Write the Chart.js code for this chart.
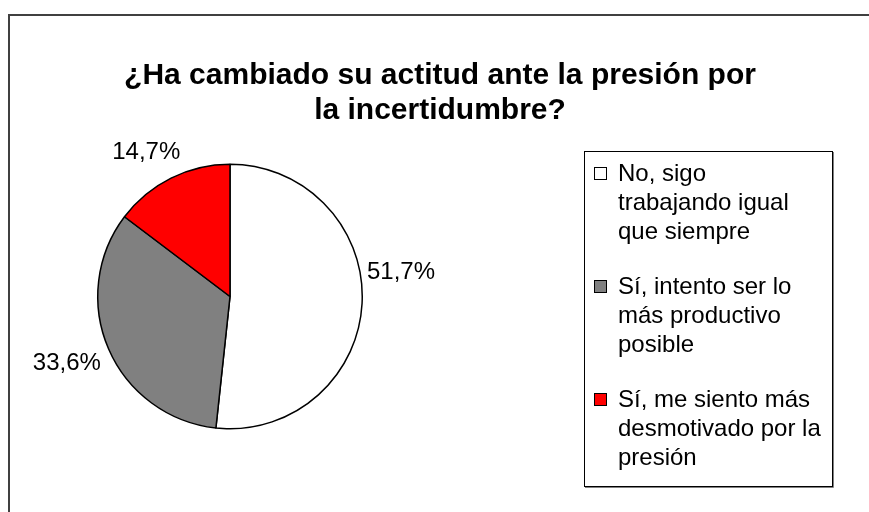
<!DOCTYPE html>
<html>
<head>
<meta charset="utf-8">
<script src="https://cdn.jsdelivr.net/npm/chart.js@4/dist/chart.umd.min.js"></script>
<style>
  body { margin: 0; background: #fff; }
  #wrap { width: 869px; height: 512px; }
</style>
</head>
<body>
<div id="wrap"><canvas id="pieChart" width="869" height="512"></canvas></div>
<script>
// data
const titleLines = ['¿Ha cambiado su actitud ante la presión por', 'la incertidumbre?'];
const answers = ['No, sigo trabajando igual que siempre', 'Sí, intento ser lo más productivo posible', 'Sí, me siento más desmotivado por la presión'];
const answerLines = [
  ['No, sigo', 'trabajando igual', 'que siempre'],
  ['Sí, intento ser lo', 'más productivo', 'posible'],
  ['Sí, me siento más', 'desmotivado por la', 'presión']
];
const percents = [51.7, 33.6, 14.7];
const sliceColors = ['#FFFFFF', '#808080', '#FF0000'];

const FONT = '"Liberation Sans", Arial, sans-serif';

// frame + title drawn by hand (excel-like look)
const framePlugin = {
  id: 'frame',
  beforeDraw(chart) {
    const ctx = chart.ctx;
    ctx.save();
    ctx.fillStyle = '#fff';
    ctx.fillRect(0, 0, chart.width, chart.height);
    ctx.strokeStyle = '#404040';
    ctx.lineWidth = 2;
    ctx.beginPath();
    ctx.moveTo(9, chart.height);
    ctx.lineTo(9, 15);
    ctx.lineTo(chart.width, 15);
    ctx.stroke();

    ctx.fillStyle = '#000';
    ctx.font = 'bold 30px ' + FONT;
    ctx.textAlign = 'center';
    ctx.textBaseline = 'middle';
    ctx.fillText(titleLines[0], 440, 76);
    ctx.fillText(titleLines[1], 440, 111);
    ctx.restore();
  }
};

// percentage labels outside the slices
const labelNudge = [[-1, -32], [-5, 8], [-7, -11]];
const pctPlugin = {
  id: 'pctLabels',
  afterDatasetsDraw(chart) {
    const ctx = chart.ctx;
    const arcs = chart.getDatasetMeta(0).data;
    ctx.save();
    ctx.font = '24px ' + FONT;
    ctx.fillStyle = '#000';
    ctx.textAlign = 'center';
    ctx.textBaseline = 'middle';
    arcs.forEach((arc, i) => {
      const mid = (arc.startAngle + arc.endAngle) / 2;
      const r = arc.outerRadius + 6;
      const txt = percents[i].toFixed(1).replace('.', ',') + '%';
      const w = ctx.measureText(txt).width;
      const h = 20;
      const px = arc.x + Math.cos(mid) * r;
      const py = arc.y + Math.sin(mid) * r;
      const tx = px + Math.cos(mid) * w / 2 + labelNudge[i][0];
      const ty = py + Math.sin(mid) * h / 2 + labelNudge[i][1];
      ctx.fillText(txt, tx, ty);
    });
    ctx.restore();
  }
};

// legend box with wrapped text
const legendPlugin = {
  id: 'boxLegend',
  afterDraw(chart) {
    const ctx = chart.ctx;
    const x0 = 584, y0 = 151, x1 = 832, y1 = 486;
    ctx.save();
    // shadow
    ctx.strokeStyle = '#808080';
    ctx.lineWidth = 1;
    ctx.beginPath();
    ctx.moveTo(x0 + 1, y1 + 1.5);
    ctx.lineTo(x1 + 1.5, y1 + 1.5);
    ctx.lineTo(x1 + 1.5, y0 + 1);
    ctx.stroke();
    ctx.strokeStyle = '#000';
    ctx.strokeRect(x0 + 0.5, y0 + 0.5, x1 - x0, y1 - y0);

    ctx.font = '24px ' + FONT;
    ctx.textBaseline = 'middle';
    ctx.textAlign = 'left';
    const lineH = 29, gap = 26;
    let y = 174;
    answerLines.forEach((lines, i) => {
      ctx.fillStyle = sliceColors[i];
      ctx.fillRect(594.5, y - 6.5, 12, 12);
      ctx.strokeStyle = '#000';
      ctx.strokeRect(594.5, y - 6.5, 12, 12);
      ctx.fillStyle = '#000';
      lines.forEach((ln, j) => ctx.fillText(ln, 618, y + j * lineH));
      y += lines.length * lineH + gap;
    });
    ctx.restore();
  }
};

new Chart(document.getElementById('pieChart').getContext('2d'), {
  type: 'pie',
  data: {
    labels: answers,
    datasets: [
      {
        data: percents,
        backgroundColor: sliceColors,
        borderColor: '#000',
        borderWidth: 1.5
      }
    ]
  },
  options: {
    responsive: false,
    animation: false,
    devicePixelRatio: 1,
    layout: { padding: { left: 97, right: 506, top: 163, bottom: 82 } },
    plugins: {
      legend: { display: false },
      title: { display: false },
      tooltip: { enabled: false }
    }
  },
  plugins: [framePlugin, pctPlugin, legendPlugin]
});
</script>
</body>
</html>
